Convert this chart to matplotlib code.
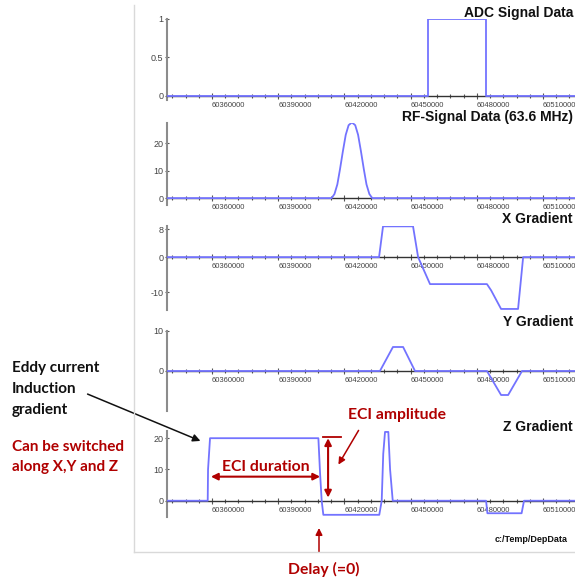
# MRI sequence signals with eddy current induction gradient

import matplotlib
matplotlib.use('Agg')
import matplotlib.pyplot as plt
from matplotlib.lines import Line2D
from matplotlib.ticker import MultipleLocator

W, H = 575, 581

# time axis (sample counter)
t_lo, t_hi = 60339600, 60524500

adc_t = [60330000, 60458000, 60458000, 60484000, 60484000, 60530000]
adc_v = [0, 0, 1, 1, 0, 0]

rf_t = [60330000, 60414200, 60415500, 60416800, 60418000, 60419300, 60420600, 60421900,
        60423400, 60424900, 60426200, 60427500, 60428800, 60430000, 60431300, 60432600, 60530000]
rf_v = [0, 0, 1.5, 5, 10.5, 17, 23, 26.5, 27.5, 26.5, 23, 17, 10.5, 5, 1.5, 0, 0]

gx_t = [60330000, 60435700, 60437500, 60451100, 60453400, 60458800, 60484600, 60486500,
        60491000, 60498700, 60501000, 60530000]
gx_v = [0, 0, 8.8, 8.8, 0, -7.7, -7.7, -9.5, -14.8, -14.8, 0, 0]

gy_t = [60330000, 60436100, 60442000, 60446600, 60452000, 60484600, 60491000, 60494200,
        60500500, 60530000]
gy_v = [0, 0, 6, 6, 0, 0, -6, -6, 0, 0]

gz_t = [60330000, 60358050, 60358200, 60359100, 60408200, 60408950, 60409700, 60410450,
        60435800, 60436900, 60437600, 60438400, 60439900, 60440700, 60441900, 60484200,
        60484800, 60500300, 60501400, 60530000]
gz_v = [0, 0, 10, 20, 20, 9, 0, -4.5, -4.5, 0, 15, 22, 22, 10, 0, 0, -4, -4, 0, 0]

titles = ['ADC Signal Data', 'RF-Signal Data (63.6 MHz)', 'X Gradient', 'Y Gradient', 'Z Gradient']
series = [(adc_t, adc_v), (rf_t, rf_v), (gx_t, gx_v), (gy_t, gy_v), (gz_t, gz_v)]
yticks = [[0, 0.5, 1], [0, 10, 20], [-10, 0, 8], [0, 10], [0, 10, 20]]
ylims = [(-0.052, 1.0), (-2.5, 27.3), (-15.1, 8.9), (-10, 10), (-5.2, 22.3)]

# panel layout in pixels: (top, bottom) of each axes, title y
panel_px = [(19, 100), (123, 205), (226, 310), (331, 411), (431, 517)]
title_y = [13, 117, 219, 322, 427]

dark_red = '#b00000'
sig_col = '#7373ff'

fig = plt.figure(figsize=(W / 100, H / 100), dpi=100)

def fx(x):
    return x / W

def fy(y):
    return 1 - y / H

# light frame around the plot area
fig.add_artist(Line2D([fx(134), fx(134)], [fy(5), fy(552)], color='#d9d9d9', lw=1))
fig.add_artist(Line2D([fx(134), fx(575)], [fy(552), fy(552)], color='#d9d9d9', lw=1))

axes = []
for i in range(5):
    top, bot = panel_px[i]
    ax = fig.add_axes([fx(167), fy(bot), fx(575) - fx(167), (bot - top) / H])
    t, v = series[i]
    ax.plot(t, v, color=sig_col, lw=1.3, zorder=3)
    ax.set_xlim(t_lo, t_hi)
    ax.set_ylim(*ylims[i])
    ax.patch.set_visible(False)
    for s in ['top', 'right']:
        ax.spines[s].set_visible(False)
    ax.spines['bottom'].set_position(('data', 0))
    ax.spines['bottom'].set_color('#333333')
    ax.spines['bottom'].set_linewidth(1.0)
    ax.spines['left'].set_color('#8c8c8c')
    ax.spines['left'].set_linewidth(1.5)
    ax.xaxis.set_major_locator(MultipleLocator(30000))
    ax.xaxis.set_minor_locator(MultipleLocator(6000))
    ax.ticklabel_format(axis='x', useOffset=False, style='plain')
    ax.set_yticks(yticks[i])
    ax.set_yticklabels([('%g' % y) for y in yticks[i]])
    ax.tick_params(axis='x', which='major', direction='inout', length=5, width=0.8,
                   color='#555555', labelsize=5.5, pad=2, labelcolor='#444444')
    ax.tick_params(axis='x', which='minor', direction='inout', length=3, width=0.8, color='#555555')
    ax.tick_params(axis='y', direction='inout', length=3, width=0.8, color='#555555',
                   labelsize=6.5, pad=1, labelcolor='#444444')
    for lbl in ax.get_xticklabels():
        lbl.set_ha('left')
        lbl.set_fontfamily('Liberation Sans')
    for lbl in ax.get_yticklabels():
        lbl.set_fontfamily('Liberation Sans')
    fig.text(fx(573), fy(title_y[i]), titles[i], ha='right', va='center',
             fontsize=10, fontweight='bold', family='Liberation Sans', color='#111111')
    axes.append(ax)

axz = axes[4]

# small path label
fig.text(fx(568), fy(539), 'c:/Temp/DepData', ha='right', va='center',
         fontsize=6.5, fontweight='bold', family='Liberation Sans', color='#111111')

# left annotation text
fig.text(fx(12), fy(368), 'Eddy current', ha='left', va='center', fontsize=11,
         fontweight='bold', family='Lato', color='#111111')
fig.text(fx(12), fy(389), 'Induction', ha='left', va='center', fontsize=11,
         fontweight='bold', family='Lato', color='#111111')
fig.text(fx(12), fy(410), 'gradient', ha='left', va='center', fontsize=11,
         fontweight='bold', family='Lato', color='#111111')
fig.text(fx(12), fy(447), 'Can be switched', ha='left', va='center', fontsize=11,
         fontweight='bold', family='Lato', color=dark_red)
fig.text(fx(12), fy(467), 'along X,Y and Z', ha='left', va='center', fontsize=11,
         fontweight='bold', family='Lato', color=dark_red)

fig.add_artist(matplotlib.patches.FancyArrowPatch(
    (fx(85), fy(393)), (fx(203), fy(442)), transform=fig.transFigure,
    arrowstyle='-|>', mutation_scale=11, color='#111111', lw=1.1))

# ECI duration
axz.annotate('', xy=(60409000, 7.7), xytext=(60359500, 7.7),
             arrowprops=dict(arrowstyle='<|-|>', color=dark_red, lw=1.5,
                             mutation_scale=10, shrinkA=0, shrinkB=0))
fig.text(fx(266), fy(467), 'ECI duration', ha='center', va='center', fontsize=11.3,
         fontweight='bold', family='Lato', color=dark_red)

# ECI amplitude
axz.annotate('', xy=(60412600, 1.0), xytext=(60412600, 20.0),
             arrowprops=dict(arrowstyle='<|-|>', color=dark_red, lw=1.5,
                             mutation_scale=10, shrinkA=0, shrinkB=0))
axz.plot([60410300, 60418500], [20.3, 20.3], color=dark_red, lw=1.3, clip_on=False)
fig.text(fx(397), fy(415), 'ECI amplitude', ha='center', va='center', fontsize=11.3,
         fontweight='bold', family='Lato', color=dark_red)
fig.add_artist(matplotlib.patches.FancyArrowPatch(
    (fx(360), fy(428)), (fx(337), fy(467)), transform=fig.transFigure,
    arrowstyle='-|>', mutation_scale=10, color=dark_red, lw=1.1))

# delay
fig.add_artist(matplotlib.patches.FancyArrowPatch(
    (fx(319), fy(552)), (fx(319), fy(528)), transform=fig.transFigure,
    arrowstyle='-|>', mutation_scale=10, color=dark_red, lw=1.1, shrinkA=0, shrinkB=0))
fig.text(fx(324), fy(569), 'Delay (=0)', ha='center', va='center', fontsize=11.3,
         fontweight='bold', family='Lato', color=dark_red)

fig.savefig('out.png', dpi=100)
